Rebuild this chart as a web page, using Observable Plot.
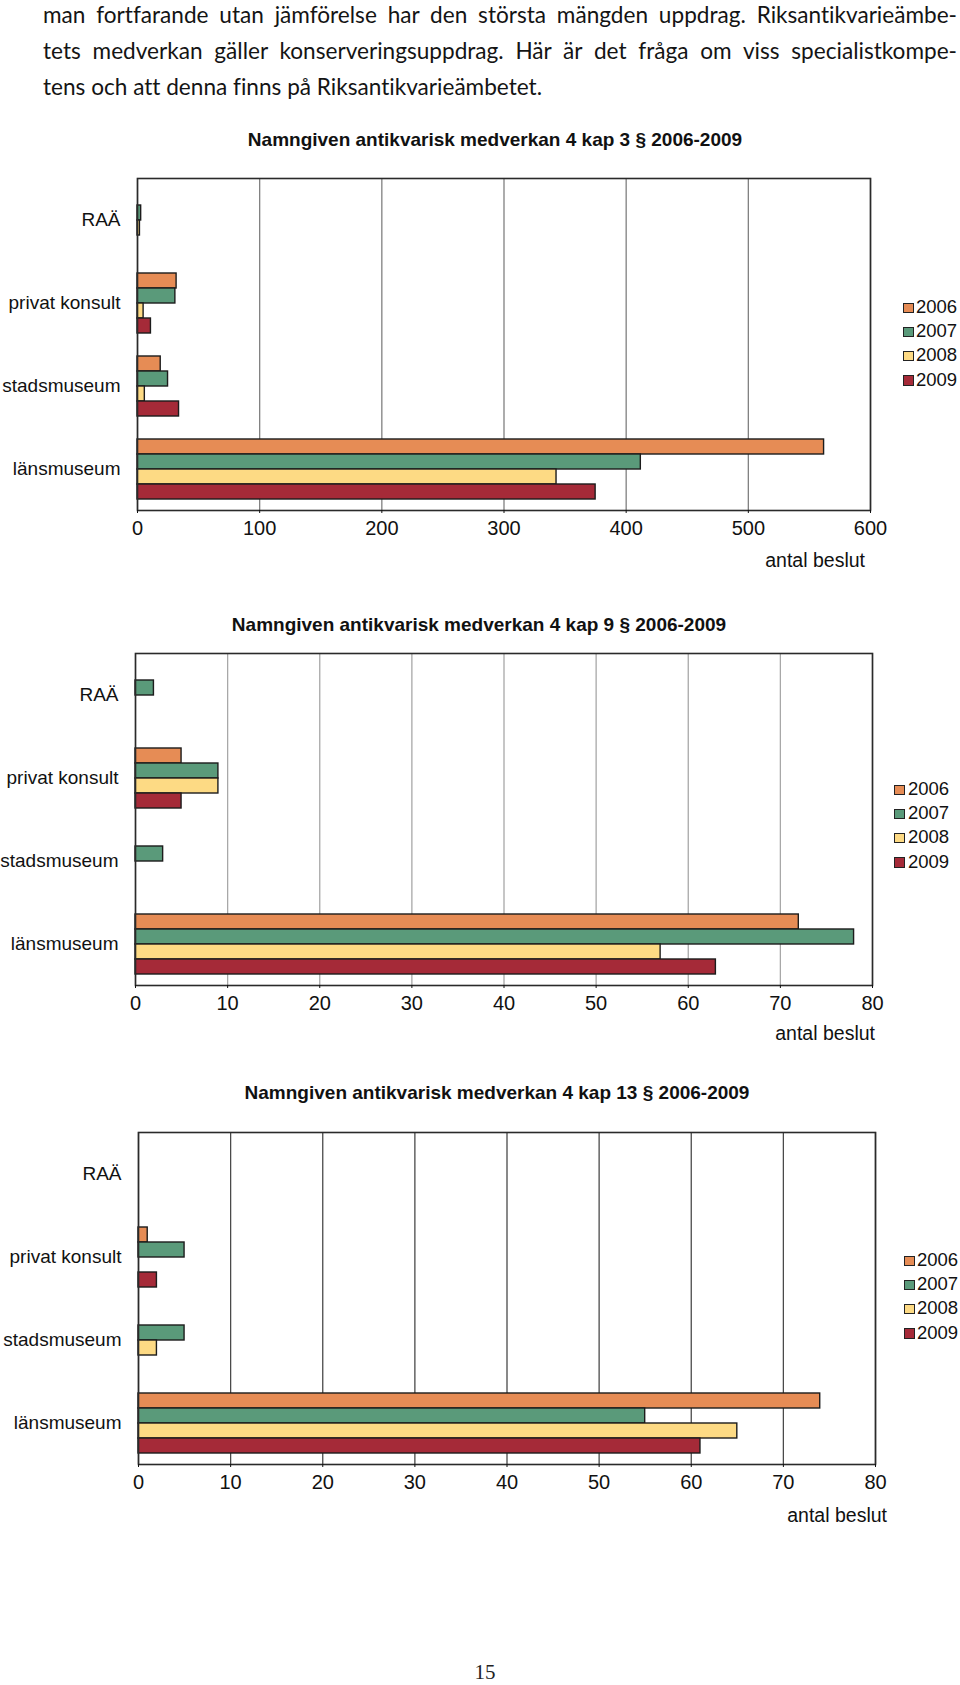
<!DOCTYPE html>
<html>
<head>
<meta charset="utf-8">
<script src="https://cdn.jsdelivr.net/npm/d3@7"></script>
<script src="https://cdn.jsdelivr.net/npm/@observablehq/plot@0.6"></script>
<style>
  html, body { margin: 0; padding: 0; background: #fff; }
  #page { position: relative; width: 960px; height: 1685px; overflow: hidden; background: #fff; }
  .body { position: absolute; left: 43px; width: 914px; font-family: Lato, "Open Sans", sans-serif;
          font-size: 22.6px; line-height: 36px; color: #141414; white-space: nowrap;
          font-variant-ligatures: none; }
  .j { text-align: justify; text-align-last: justify; }
  .title { position: absolute; font-family: "Liberation Sans", Arial, sans-serif; font-weight: bold;
           color: #111; white-space: nowrap; transform: translate(-50%, -50%); }
  .xlabel { position: absolute; font-family: "Liberation Sans", Arial, sans-serif; font-size: 19.5px;
            color: #111; white-space: nowrap; transform: translate(-100%, -50%); }
  .chart { position: absolute; left: 0; }
  .legend { position: absolute; font-family: "Liberation Sans", Arial, sans-serif; font-size: 18.5px; color: #111; }
  .legend .item { position: absolute; left: 0; height: 24px; line-height: 24px; white-space: nowrap; }
  .legend .sw { position: absolute; left: 0; top: 7.5px; width: 8.5px; height: 8.5px; border: 1px solid #222; }
  .legend .lab { position: absolute; white-space: nowrap; }
  .pagenum { position: absolute; left: 485px; top: 1660px; transform: translateX(-50%);
             font-family: "Liberation Serif", "DejaVu Serif", serif; font-size: 21px; color: #222; }
</style>
</head>
<body>
<div id="page">
  <div class="body j" style="top:-3px">man fortfarande utan jämförelse har den största mängden uppdrag. Riksantikvarieämbe-</div>
  <div class="body j" style="top:33px">tets medverkan gäller konserveringsuppdrag. Här är det fråga om viss specialistkompe-</div>
  <div class="body" style="top:69px">tens och att denna finns på Riksantikvarieämbetet.</div>
</div>
<script>
// ---------- data ----------
const categories = ["RAÄ", "privat konsult", "stadsmuseum", "länsmuseum"];
const years = ["2006", "2007", "2008", "2009"];
const yearColors = ["#E68C55", "#5A9A7A", "#FDDA84", "#A52A38"];

// 4 kap 3 §  (values per category, in the order of `categories`)
const kap3_2006 = [0, 32, 19, 562];
const kap3_2007 = [3, 31, 25, 412];
const kap3_2008 = [2, 5, 6, 343];
const kap3_2009 = [0, 11, 34, 375];
const kap3Ticks = [0, 100, 200, 300, 400, 500, 600];

// 4 kap 9 §
const kap9_2006 = [0, 5, 0, 72];
const kap9_2007 = [2, 9, 3, 78];
const kap9_2008 = [0, 9, 0, 57];
const kap9_2009 = [0, 5, 0, 63];
const kap9Ticks = [0, 10, 20, 30, 40, 50, 60, 70, 80];

// 4 kap 13 §
const kap13_2006 = [0, 1, 0, 74];
const kap13_2007 = [0, 5, 5, 55];
const kap13_2008 = [0, 0, 2, 65];
const kap13_2009 = [0, 2, 0, 61];
const kap13Ticks = [0, 10, 20, 30, 40, 50, 60, 70, 80];

const titles = [
  "Namngiven antikvarisk medverkan 4 kap 3 § 2006-2009",
  "Namngiven antikvarisk medverkan 4 kap 9 § 2006-2009",
  "Namngiven antikvarisk medverkan 4 kap 13 § 2006-2009"
];
const axisLabel = "antal beslut";

// ---------- helpers ----------
function table(series) {
  const rows = [];
  categories.forEach((c, j) => {
    years.forEach((yr, i) => {
      const v = series[i][j];
      if (v > 0) rows.push({category: c, year: yr, value: v});
    });
  });
  return rows;
}

function chart({rows, ticks, mt, mb, ml, mr, plotH, grid}) {
  return Plot.plot({
    width: 960,
    height: mt + plotH + mb,
    marginTop: mt, marginBottom: mb, marginLeft: ml, marginRight: mr,
    style: {fontFamily: '"Liberation Sans", Arial, sans-serif', fontSize: "18px", color: "#111",
            background: "transparent", overflow: "visible"},
    x: {domain: [ticks[0], ticks[ticks.length - 1]]},
    y: {domain: years, axis: null, paddingInner: 0, paddingOuter: 0.68},
    fy: {domain: categories, paddingInner: 0, paddingOuter: 0},
    color: {domain: years, range: yearColors},
    marks: [
      // gridlines in every category band (also keeps empty bands alive)
      Plot.ruleX(d3.cross(categories, ticks), {x: d => d[1], fy: d => d[0],
                                               stroke: grid, strokeOpacity: 1, strokeWidth: 1.3}),
      Plot.barX(rows, {x: "value", y: "year", fy: "category", fill: "year",
                       stroke: "#1c1c1c", strokeWidth: 1.4}),
      Plot.frame({facet: "super", stroke: "#2a2a2a", strokeWidth: 1.6}),
      Plot.axisFy({anchor: "left", tickSize: 0, tickPadding: 17, fontSize: 19, label: null}),
      Plot.axisX(ticks, {anchor: "bottom", tickSize: 3, tickPadding: 7, fontSize: 20, label: null})
    ]
  });
}

const page = document.getElementById("page");

function addTitle(text, cx, cy, size) {
  const d = document.createElement("div");
  d.className = "title";
  d.style.left = cx + "px";
  d.style.top = cy + "px";
  d.style.fontSize = size + "px";
  d.textContent = text;
  page.appendChild(d);
}

function addXLabel(right, cy) {
  const d = document.createElement("div");
  d.className = "xlabel";
  d.style.left = right + "px";
  d.style.top = cy + "px";
  d.textContent = axisLabel;
  page.appendChild(d);
}

function addLegend(x, textX, y0) {
  const lg = document.createElement("div");
  lg.className = "legend";
  lg.style.left = x + "px";
  lg.style.top = (y0 - 12) + "px";
  years.forEach((yr, i) => {
    const it = document.createElement("div");
    it.className = "item";
    it.style.top = (i * 24.2) + "px";
    const sw = document.createElement("div");
    sw.className = "sw";
    sw.style.background = yearColors[i];
    const lab = document.createElement("div");
    lab.className = "lab";
    lab.style.left = (textX - x) + "px";
    lab.textContent = yr;
    it.appendChild(sw);
    it.appendChild(lab);
    lg.appendChild(it);
  });
  page.appendChild(lg);
}

function place(svg, top) {
  const wrap = document.createElement("div");
  wrap.className = "chart";
  wrap.style.top = top + "px";
  wrap.appendChild(svg);
  page.appendChild(wrap);
}

// ---------- chart 1 ----------
addTitle(titles[0], 495, 140, 19);
place(chart({rows: table([kap3_2006, kap3_2007, kap3_2008, kap3_2009]), ticks: kap3Ticks,
             mt: 18, mb: 50, ml: 137, mr: 90, plotH: 332, grid: "#808080"}), 160);
addXLabel(865, 560);
addLegend(903, 916, 307);

// ---------- chart 2 ----------
addTitle(titles[1], 479, 625, 19);
place(chart({rows: table([kap9_2006, kap9_2007, kap9_2008, kap9_2009]), ticks: kap9Ticks,
             mt: 12, mb: 50, ml: 135, mr: 88, plotH: 334, grid: "#a8a8a8"}), 640);
addXLabel(875, 1033);
addLegend(894, 908, 789);

// ---------- chart 3 ----------
addTitle(titles[2], 497, 1093, 19);
place(chart({rows: table([kap13_2006, kap13_2007, kap13_2008, kap13_2009]), ticks: kap13Ticks,
             mt: 11, mb: 50, ml: 138, mr: 85, plotH: 333, grid: "#4a4a4a"}), 1120);
addXLabel(887, 1515);
addLegend(904, 917, 1260);

// page number
const pn = document.createElement("div");
pn.className = "pagenum";
pn.textContent = "15";
page.appendChild(pn);
</script>
</body>
</html>
